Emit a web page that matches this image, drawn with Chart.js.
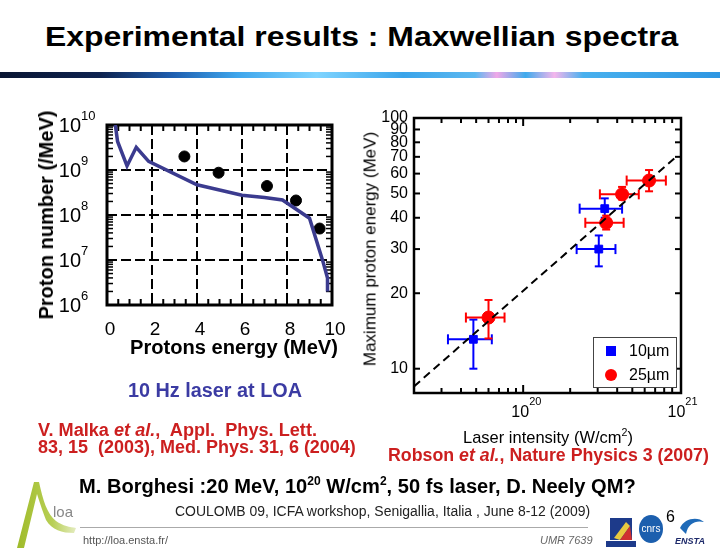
<!DOCTYPE html>
<html>
<head>
<meta charset="utf-8">
<script src="https://cdn.jsdelivr.net/npm/chart.js@4.4.0/dist/chart.umd.min.js"></script>
<style>
  body { margin: 0; width: 720px; height: 553px; position: relative; background: #fff; overflow: hidden;
         font-family: "Liberation Sans", Arial, sans-serif; }
  .t { position: absolute; white-space: nowrap; transform-origin: left center; line-height: 1; }
  canvas { position: absolute; }
  .red { color: #cc1f1f; font-weight: bold; }
</style>
</head>
<body>
<div class="t" data-w="633" style="left:45px;top:24px;font-size:27px;font-weight:bold">Experimental results : Maxwellian spectra</div>
<div style="position:absolute;left:0;top:72px;width:720px;height:6px;
  background:linear-gradient(90deg,#0a1633 0%,#0e2350 14%,#1f5fb0 24%,#3fa6ec 33%,#7fd4ff 44%,#3aa4ea 56%,#5cb8f0 66%,#f0a8e8 69%,#3eaaec 73%,#f4b6ec 77%,#48b0ee 81%,#2e96e2 100%)"></div>

<canvas id="spec" width="360" height="280" style="left:0;top:90px"></canvas>
<div class="t" style="left:46px;top:215px;font-size:20px;font-weight:bold;transform:translate(-50%,-50%) rotate(-90deg);transform-origin:center">Proton number (/MeV)</div>
<div class="t" data-w="208" style="left:130px;top:337px;font-size:20px;font-weight:bold">Protons energy (MeV)</div>

<canvas id="scal" width="360" height="350" style="left:360px;top:100px"></canvas>
<div class="t" style="left:370px;top:249px;font-size:17px;transform:translate(-50%,-50%) rotate(-90deg);transform-origin:center">Maximum proton energy (MeV)</div>
<div class="t" data-w="170" style="left:463px;top:427px;font-size:17px">Laser intensity (W/cm<sup style="font-size:11px">2</sup>)</div>

<div class="t" data-w="174" style="left:128px;top:380px;font-size:20px;font-weight:bold;color:#3b3ba3">10 Hz laser at LOA</div>
<div class="t red" data-w="279" style="left:38px;top:421px;font-size:18px">V. Malka <i>et al.</i>,&nbsp; Appl.&nbsp; Phys. Lett.</div>
<div class="t red" data-w="318" style="left:38px;top:438px;font-size:18px">83, 15&nbsp; (2003), Med. Phys. 31, 6 (2004)</div>
<div class="t red" data-w="321" style="left:388px;top:446px;font-size:18px">Robson <i>et al.</i>, Nature Physics 3 (2007)</div>
<div class="t" data-w="557" style="left:79px;top:475px;font-size:20px;font-weight:bold">M. Borghesi :20 MeV, 10<sup style="font-size:12px">20</sup> W/cm<sup style="font-size:12px">2</sup>, 50 fs laser, D. Neely QM?</div>
<div class="t" data-w="415" style="left:175px;top:504px;font-size:14px;color:#222">COULOMB 09, ICFA workshop, Senigallia, Italia , June 8-12 (2009)</div>
<div style="position:absolute;left:80px;top:527px;width:508px;height:1px;background:#aaa"></div>
<div class="t" style="left:83px;top:535px;font-size:11px;color:#555">http://loa.ensta.fr/</div>
<div class="t" style="left:540px;top:535px;font-size:11px;color:#666;font-style:italic">UMR 7639</div>
<div class="t" style="left:666px;top:509px;font-size:16px">6</div>
<div class="t" style="left:53px;top:504px;font-size:15px;color:#888">loa</div>
<svg style="position:absolute;left:0;top:470px" width="90" height="83">
  <defs><linearGradient id="g" x1="0" x2="1"><stop offset="0" stop-color="#9fbb2a"/><stop offset="0.6" stop-color="#b8cf55"/><stop offset="1" stop-color="#e4ecc0"/></linearGradient></defs>
  <path d="M17 78 L34 12 L39 12 C43 30 47 44 56 51 C63 56 70 57 76 58 L74 63 C62 63 52 60 46 50 C42 40 39 30 37 24 L24 78 Z" fill="url(#g)"/>
</svg>
<svg style="position:absolute;left:600px;top:510px" width="120" height="43">
  <rect x="10" y="8" width="22" height="22" fill="#1d3a8a"/><path d="M14 28 L26 12 L30 16 L20 30 Z" fill="#e8c840"/><path d="M20 30 L30 16 L32 30 Z" fill="#d03030"/>
  <rect x="6" y="31" width="30" height="6" fill="#1d3a8a"/>
  <ellipse cx="51" cy="19" rx="12" ry="14" fill="#1c5fae"/><text x="51" y="22" font-size="10" fill="#fff" text-anchor="middle" font-family="Liberation Sans">cnrs</text>
  <path d="M80 18 C84 8 98 6 104 12 C96 10 88 13 86 24 Z" fill="#1e6ab8"/>
  <text x="90" y="34" font-size="9" font-weight="bold" font-style="italic" fill="#1e2a6a" text-anchor="middle" font-family="Liberation Sans">ENSTA</text>
</svg>

<script>
// ---------- left chart: Maxwellian spectrum ----------
const energyLine = [0.37, 0.47, 0.89, 1.3, 1.85, 4, 5, 6, 7, 7.8, 9.0, 9.6, 9.8, 9.8];
const numberLine = [1e10, 4.3e9, 1.23e9, 3.2e9, 1.55e9, 4.7e8, 3.6e8, 2.75e8, 2.45e8, 2.15e8, 8.5e7, 9.1e6, 4e6, 2e6];
const energyPts = [3.44, 4.96, 7.11, 8.4, 9.45];
const numberPts = [2.0e9, 8.7e8, 4.4e8, 2.1e8, 5.0e7];
const energyTicks = [0, 2, 4, 6, 8, 10];
const numberExps = [6, 7, 8, 9, 10];

// ---------- right chart: scaling with laser intensity ----------
const int10 = [4.8e19, 3.05e20, 3.33e20];
const int10Lo = [3.3e19, 2.2e20, 2.3e20];
const int10Hi = [6.3e19, 3.9e20, 4.3e20];
const en10 = [13.1, 30, 43.5];
const en10Lo = [10, 25.6, 40];
const en10Hi = [15.7, 34, 47.8];
const int25 = [6.0e19, 3.4e20, 4.3e20, 6.4e20];
const int25Lo = [4.3e19, 2.5e20, 3.1e20, 4.6e20];
const int25Hi = [7.6e19, 4.4e20, 5.5e20, 8.2e20];
const en25 = [16, 38.2, 49.6, 56.3];
const en25Lo = [13.2, 35.9, 47.3, 51];
const en25Hi = [18.8, 40.8, 53.1, 62];
const fitInt = [2e19, 9.6e20];
const fitEn = [8.5, 70.3];
const energyTicksR = [10, 20, 30, 40, 50, 60, 70, 80, 90, 100];
const intExps = [20, 21];

const FONT = '"Liberation Sans", Arial, sans-serif';

// squeeze/stretch text lines to the widths measured on the slide
document.querySelectorAll('.t[data-w]').forEach(el => {
  const w = el.getBoundingClientRect().width;
  el.style.transform = 'scaleX(' + (el.dataset.w / w).toFixed(3) + ')';
});

function seg(ctx, x1, y1, x2, y2) {
  ctx.beginPath(); ctx.moveTo(x1, y1); ctx.lineTo(x2, y2); ctx.stroke();
}

// frame, dashed grid, inward ticks and labels of the spectrum plot
const specFrame = {
  id: 'specFrame',
  beforeDatasetsDraw(chart) {
    const { ctx, chartArea: a, scales: { x, y } } = chart;
    ctx.save();
    ctx.strokeStyle = '#000';
    ctx.lineWidth = 2;
    ctx.setLineDash([10, 4]);
    energyTicks.slice(1, -1).forEach(v => { const p = x.getPixelForValue(v); seg(ctx, p, a.top, p, a.bottom); });
    numberExps.slice(1, -1).forEach(e => { const p = y.getPixelForValue(Math.pow(10, e)); seg(ctx, a.left, p, a.right, p); });
    ctx.setLineDash([]);
    ctx.lineWidth = 2;
    for (let v = 0.5; v < 10; v += 0.5) {
      const p = x.getPixelForValue(v);
      seg(ctx, p, a.bottom, p, a.bottom - 6);
      seg(ctx, p, a.top, p, a.top + 6);
    }
    ctx.lineWidth = 1.5;
    for (let e = 6; e < 10; e++) {
      for (let m = 2; m <= 9; m++) {
        const p = y.getPixelForValue(m * Math.pow(10, e));
        seg(ctx, a.left, p, a.left + 6, p);
        seg(ctx, a.right, p, a.right - 6, p);
      }
    }
    ctx.lineWidth = 3;
    ctx.strokeRect(a.left, a.top, a.width, a.height);
    ctx.restore();
  },
  afterDraw(chart) {
    const { ctx, chartArea: a, scales: { x, y } } = chart;
    ctx.save();
    ctx.fillStyle = '#000';
    ctx.textBaseline = 'middle';
    numberExps.forEach(e => {
      const p = y.getPixelForValue(Math.pow(10, e));
      ctx.font = '20px ' + FONT;
      ctx.textAlign = 'right';
      ctx.fillText('10', 81, p + 1);
      ctx.font = '13px ' + FONT;
      ctx.textAlign = 'left';
      ctx.fillText(String(e), 81, p - 9);
    });
    ctx.font = '19px ' + FONT;
    ctx.textAlign = 'center';
    energyTicks.forEach(v => {
      ctx.fillText(String(v), x.getPixelForValue(v) + 3, a.bottom + 25);
    });
    ctx.restore();
  }
};

new Chart(document.getElementById('spec'), {
  type: 'scatter',
  data: {
    datasets: [
      {
        data: energyLine.map((e, i) => ({ x: e, y: numberLine[i] })),
        showLine: true,
        borderColor: '#3b3b8f',
        borderWidth: 3.5,
        pointRadius: 0,
        tension: 0
      },
      {
        data: energyPts.map((e, i) => ({ x: e, y: numberPts[i] })),
        pointRadius: 5.5,
        backgroundColor: '#000',
        borderColor: '#000'
      }
    ]
  },
  options: {
    responsive: false,
    animation: false,
    layout: { padding: { left: 107, top: 35, right: 28, bottom: 65 } },
    plugins: { legend: { display: false }, tooltip: { enabled: false } },
    scales: {
      x: { type: 'linear', min: 0, max: 10, display: false },
      y: { type: 'logarithmic', min: 1e6, max: 1e10, display: false }
    }
  },
  plugins: [specFrame]
});

// error bars drawn under the markers
const errorBars = {
  id: 'errorBars',
  beforeDatasetsDraw(chart) {
    const { ctx, scales: { x, y } } = chart;
    ctx.save();
    ctx.lineWidth = 2;
    chart.data.datasets.forEach(ds => {
      if (!ds.err) return;
      ctx.strokeStyle = ds.backgroundColor;
      ds.data.forEach((pt, i) => {
        const px = x.getPixelForValue(pt.x), py = y.getPixelForValue(pt.y);
        const xl = x.getPixelForValue(ds.err.xLo[i]), xh = x.getPixelForValue(ds.err.xHi[i]);
        const yl = y.getPixelForValue(ds.err.yLo[i]), yh = y.getPixelForValue(ds.err.yHi[i]);
        seg(ctx, xl, py, xh, py);
        seg(ctx, xl, py - 5, xl, py + 5);
        seg(ctx, xh, py - 5, xh, py + 5);
        seg(ctx, px, yl, px, yh);
        seg(ctx, px - 4, yl, px + 4, yl);
        seg(ctx, px - 4, yh, px + 4, yh);
      });
    });
    ctx.restore();
  }
};

const scalFrame = {
  id: 'scalFrame',
  afterDraw(chart) {
    const { ctx, chartArea: a, scales: { x, y } } = chart;
    ctx.save();
    ctx.strokeStyle = '#000';
    ctx.lineWidth = 2;
    energyTicksR.forEach(v => {
      const p = y.getPixelForValue(v);
      seg(ctx, a.left, p, a.left + 6, p);
      seg(ctx, a.right, p, a.right - 6, p);
    });
    for (let e = 19; e <= 20; e++) {
      for (let m = 1; m <= 9; m++) {
        const v = m * Math.pow(10, e);
        if (v < x.min || v > x.max) continue;
        const len = m === 1 ? 8 : 5;
        const p = x.getPixelForValue(v);
        seg(ctx, p, a.bottom, p, a.bottom - len);
        seg(ctx, p, a.top, p, a.top + len);
      }
    }
    ctx.lineWidth = 2.5;
    ctx.strokeRect(a.left, a.top, a.width, a.height);

    ctx.fillStyle = '#000';
    ctx.font = '16px ' + FONT;
    ctx.textAlign = 'right';
    ctx.textBaseline = 'middle';
    energyTicksR.forEach(v => ctx.fillText(String(v), a.left - 6, y.getPixelForValue(v)));
    intExps.forEach(e => {
      const p = x.getPixelForValue(Math.pow(10, e));
      ctx.font = '16px ' + FONT;
      ctx.textAlign = 'right';
      ctx.textBaseline = 'alphabetic';
      ctx.fillText('10', p + 6, a.bottom + 24);
      ctx.font = '11px ' + FONT;
      ctx.textAlign = 'left';
      ctx.fillText(String(e), p + 6, a.bottom + 12);
    });

    // legend box
    const lx = 233, ly = 237;
    ctx.fillStyle = '#fff';
    ctx.fillRect(lx, ly, 83, 50);
    ctx.strokeStyle = '#444';
    ctx.lineWidth = 1;
    ctx.strokeRect(lx + 0.5, ly + 0.5, 83, 50);
    chart.data.datasets.filter(ds => ds.label).forEach((ds, i) => {
      const cy = ly + 14 + i * 24;
      ctx.fillStyle = ds.backgroundColor;
      if (ds.pointStyle === 'rect') ctx.fillRect(lx + 13, cy - 5, 10, 10);
      else { ctx.beginPath(); ctx.arc(lx + 18, cy, 6, 0, Math.PI * 2); ctx.fill(); }
      ctx.fillStyle = '#000';
      ctx.font = '16px ' + FONT;
      ctx.textAlign = 'left';
      ctx.textBaseline = 'middle';
      ctx.fillText(ds.label, lx + 36, cy + 1);
    });
    ctx.restore();
  }
};

new Chart(document.getElementById('scal'), {
  type: 'scatter',
  data: {
    datasets: [
      {
        data: fitInt.map((v, i) => ({ x: v, y: fitEn[i] })),
        showLine: true,
        borderColor: '#000',
        borderWidth: 2,
        borderDash: [8, 5],
        pointRadius: 0
      },
      {
        label: '10\u00b5m',
        data: int10.map((v, i) => ({ x: v, y: en10[i] })),
        pointStyle: 'rect',
        pointRadius: 5.5,
        backgroundColor: '#0000ff',
        borderColor: '#0000ff',
        err: { xLo: int10Lo, xHi: int10Hi, yLo: en10Lo, yHi: en10Hi }
      },
      {
        label: '25\u00b5m',
        data: int25.map((v, i) => ({ x: v, y: en25[i] })),
        pointStyle: 'circle',
        pointRadius: 6.5,
        backgroundColor: '#ff0000',
        borderColor: '#ff0000',
        err: { xLo: int25Lo, xHi: int25Hi, yLo: en25Lo, yHi: en25Hi }
      }
    ]
  },
  options: {
    responsive: false,
    animation: false,
    layout: { padding: { left: 54, top: 18, right: 39, bottom: 57 } },
    plugins: { legend: { display: false }, tooltip: { enabled: false } },
    scales: {
      x: { type: 'logarithmic', min: 2e19, max: 1.025e21, display: false },
      y: { type: 'logarithmic', min: 8, max: 100, display: false }
    }
  },
  plugins: [errorBars, scalFrame]
});
</script>
</body>
</html>
